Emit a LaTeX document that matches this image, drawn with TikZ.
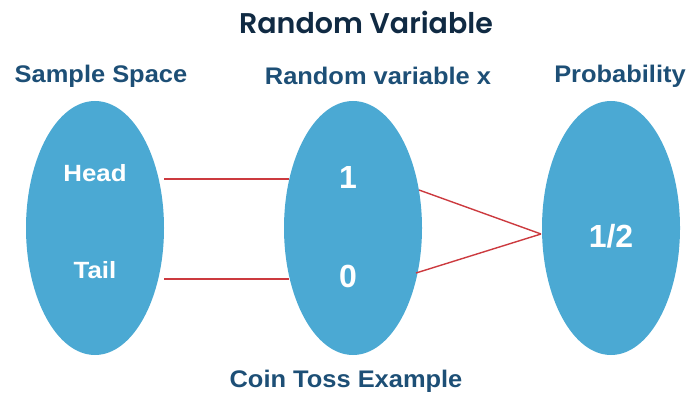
\documentclass[tikz,border=0pt]{standalone}
\usepackage{fontspec}
\setmainfont{Liberation Sans}
\newfontfamily\titlefont{Poppins SemiBold}
\usetikzlibrary{shapes.geometric}
\definecolor{ovalblue}{HTML}{4BA9D3}
\definecolor{headblue}{HTML}{1D4F76}
\definecolor{titlenavy}{HTML}{102A43}
\definecolor{linkred}{HTML}{CC3A3F}
\tikzset{
  oval/.style={ellipse, fill=ovalblue, minimum width=138pt, minimum height=254pt, inner sep=0pt},
  heading/.style={text=headblue, font=\fontsize{24}{26}\selectfont\bfseries\addfontfeature{FakeStretch=1.06}},
  item/.style={text=white, font=\fontsize{23.5}{25}\selectfont\bfseries\addfontfeature{FakeStretch=1.1}},
  value/.style={text=white, font=\fontsize{32}{34}\selectfont\bfseries},
  link/.style={draw=linkred, line width=1.4pt},
}
\begin{document}
\begin{tikzpicture}[x=1pt,y=1pt]
\useasboundingbox (0,0) rectangle (687,394);
% title and column headings
\node[text=titlenavy, font=\titlefont\fontsize{28.5}{31}\selectfont] (title) at (366,372) {Random Variable};
\node[heading] (hs) at (101,318) {Sample Space};
\node[heading] (hr) at (378,318) {Random variable x};
\node[heading] (hp) at (620,318) {Probability};
% the three sets
\node[oval] (ss) at (95,166) {};
\node[oval] (rv) at (353,166) {};
\node[oval] (pr) at (611,166) {};
% set members
\node[item] (head) at (95,221) {Head};
\node[item] (tail) at (95,124) {Tail};
\node[value] (one) at (348,217) {1};
\node[value] (zero) at (348,118) {0};
\node[value] (half) at (611,158) {1/2};
% anchor points of the mapping lines
\coordinate (h1) at (164,215);
\coordinate (h2) at (289,215);
\coordinate (t1) at (164,115);
\coordinate (t2) at (289,115);
\coordinate (o1) at (419,204);
\coordinate (z1) at (416,121);
\coordinate (p1) at (541,160);
\draw[link] (h1) -- (h2);
\draw[link] (t1) -- (t2);
\draw[link] (o1) -- (p1);
\draw[link] (z1) -- (p1);
% caption
\node[heading] (cap) at (346,13) {Coin Toss Example};
\end{tikzpicture}
\end{document}
